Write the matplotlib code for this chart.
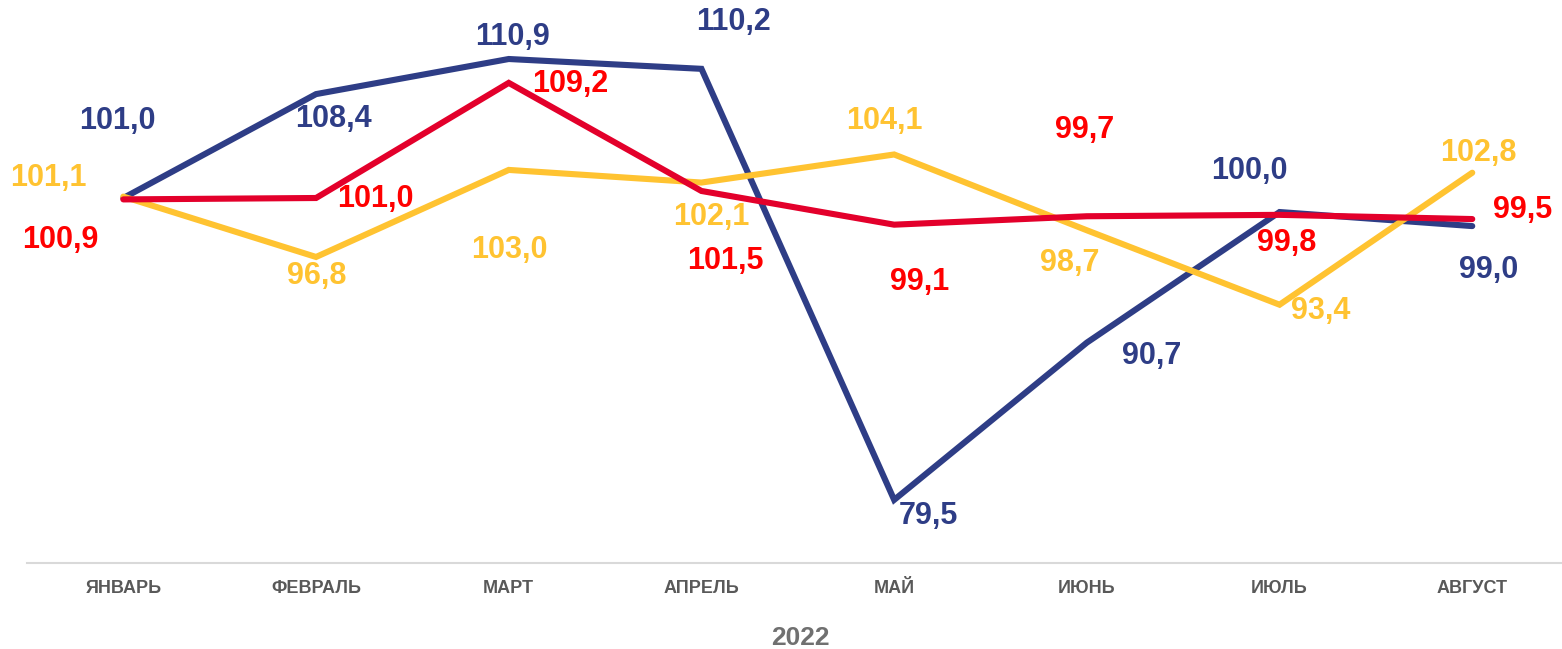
import matplotlib
matplotlib.use("Agg")
import matplotlib.pyplot as plt

months = ["ЯНВАРЬ", "ФЕВРАЛЬ", "МАРТ", "АПРЕЛЬ", "МАЙ", "ИЮНЬ", "ИЮЛЬ", "АВГУСТ"]
blue_vals = [101.0, 108.4, 110.9, 110.2, 79.5, 90.7, 100.0, 99.0]
yellow_vals = [101.1, 96.8, 103.0, 102.1, 104.1, 98.7, 93.4, 102.8]
red_vals = [100.9, 101.0, 109.2, 101.5, 99.1, 99.7, 99.8, 99.5]
year_label = "2022"

# label offsets in pixels (dx, dy), layout only
blue_off = [(-6, 77), (17, -25), (4, 22), (32, 47), (34, -16), (65, -13), (-30, 41), (16, -44)]
yellow_off = [(-75, 19), (1, -19), (1, -80), (10, -34), (-10, 33), (-17, -33), (41, -6), (6, 20)]
red_off = [(-63, -41), (59, -1), (61, -1), (24, -70), (25, -57), (-2, 86), (7, -28), (50, 9)]

plt.rcParams['font.family'] = ['Liberation Sans', 'DejaVu Sans']

W, H = 1562, 649
fig = plt.figure(figsize=(W / 100, H / 100), dpi=100)
ax_left, ax_right, ax_bottom, ax_top = 27, 1562, 563, 0
ax = fig.add_axes([ax_left / W, 1 - ax_bottom / H, (ax_right - ax_left) / W, (ax_bottom - ax_top) / H])

x = list(range(len(months)))
series = [
    (blue_vals, "#2E3D86", "#2E3D86", blue_off, 2),
    (yellow_vals, "#FFC331", "#FFC331", yellow_off, 3),
    (red_vals, "#E3002B", "#FF0000", red_off, 4),
]
for vals, lc, tc, offs, z in series:
    ax.plot(x, vals, color=lc, lw=4.4, solid_capstyle='round', solid_joinstyle='miter', zorder=z)
    for xi, v, (dx, dy) in zip(x, vals, offs):
        ax.annotate(f"{v:.1f}".replace(".", ","), (xi, v), xytext=(dx, dy),
                    textcoords='offset pixels', ha='center', va='center',
                    fontsize=22, fontweight='bold', color=tc, zorder=10)

spacing = 192.7
ax.set_xlim(-0.5, -0.5 + (ax_right - ax_left) / spacing)
k = 14.04
ax.set_ylim(101 - (563 - 198) / k, 101 + 198 / k)

ax.set_xticks(x)
ax.set_xticklabels(months, fontsize=13, fontweight='bold', color='#595959')
ax.tick_params(axis='x', length=0, pad=12)
ax.set_yticks([])
for s in ['top', 'right', 'left']:
    ax.spines[s].set_visible(False)
ax.spines['bottom'].set_color('#D9D9D9')
ax.spines['bottom'].set_linewidth(1.5)

fig.text(800 / W, 1 - 638 / H, year_label, ha='center', va='center',
         fontsize=19, fontweight='bold', color='#707070')

fig.savefig("out.png", dpi=100)
